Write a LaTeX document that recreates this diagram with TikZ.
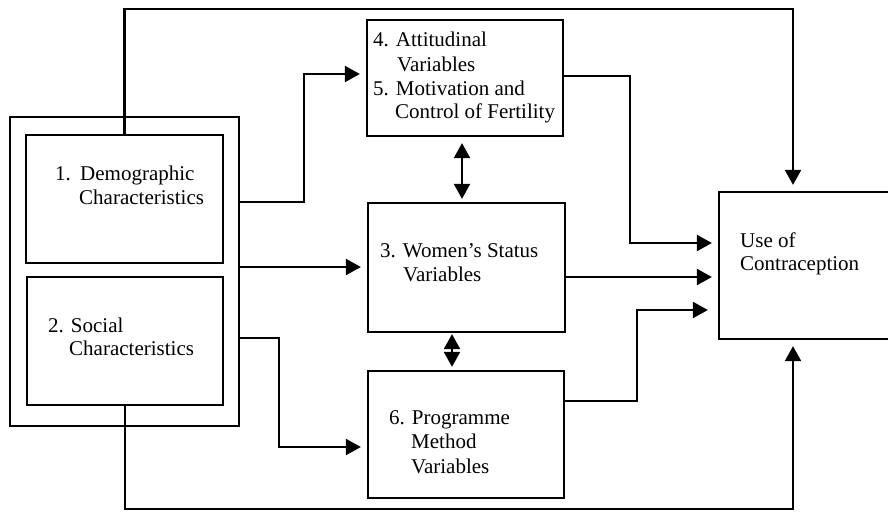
\documentclass[tikz,border=0pt]{standalone}
\usepackage{fontspec}
\setmainfont{Liberation Serif}
\usetikzlibrary{arrows.meta}
\begin{document}
\begin{tikzpicture}[x=1pt,y=-1pt,
  box/.style={draw,line width=2.3pt,rectangle,inner sep=0pt},
  lbl/.style={anchor=base west,inner sep=0pt,font=\fontsize{21}{24}\selectfont},
  conn/.style={line width=2.3pt},
  arr/.style={conn,-{Triangle[length=15pt,width=16pt]},shorten >=6pt},
  dbl/.style={conn,{Triangle[length=15pt,width=16pt]}-{Triangle[length=15pt,width=16pt]}}]
\useasboundingbox (0,0) rectangle (888,512);
% boxes
\node[box,minimum width=229pt,minimum height=309pt] (outer) at (124.5,271.5) {};
\node[box,minimum width=197pt,minimum height=128pt] (box1) at (124.5,199) {};
\node[box,minimum width=196pt,minimum height=128pt] (box2) at (125,341) {};
\node[box,minimum width=196pt,minimum height=116pt] (box4) at (465,78) {};
\node[box,minimum width=197pt,minimum height=129pt] (box3) at (466.5,267.5) {};
\node[box,minimum width=196pt,minimum height=127pt] (box6) at (466,434.5) {};
\node[box,minimum width=186pt,minimum height=147pt] (use) at (812,265.5) {};
% texts
\node[lbl] (t1a) at (55,180) {1.};
\node[lbl] (t1b) at (80,180) {Demographic};
\node[lbl] (t1c) at (79,204) {Characteristics};
\node[lbl] (t2a) at (48,332) {2. Social};
\node[lbl] (t2b) at (69,355) {Characteristics};
\node[lbl] (t4a) at (373,46) {4. Attitudinal};
\node[lbl] (t4b) at (397,71) {Variables};
\node[lbl] (t5a) at (373,95) {5. Motivation and};
\node[lbl] (t5b) at (395,118) {Control of Fertility};
\node[lbl] (t3a) at (380,257) {3. Women’s Status};
\node[lbl] (t3b) at (403,281) {Variables};
\node[lbl] (t6a) at (389,424) {6. Programme};
\node[lbl] (t6b) at (411,448) {Method};
\node[lbl] (t6c) at (411,473) {Variables};
\node[lbl] (tua) at (740,247) {Use of};
\node[lbl] (tub) at (740,270) {Contraception};
% turning points
\coordinate (c1) at (793,9);
\coordinate (c2a) at (304,202);
\coordinate (c2b) at (304,74);
\coordinate (c3) at (300,267);
\coordinate (c4a) at (279,338);
\coordinate (c4b) at (279,447);
\coordinate (c5a) at (630,76);
\coordinate (c5b) at (630,243);
\coordinate (c6) at (600,277);
\coordinate (c7a) at (637,401);
\coordinate (c7b) at (637,310);
\coordinate (c8) at (793,509);
\coordinate (d1) at (462,0);
\coordinate (d2) at (452,0);
% connectors
\draw[arr] (box1.north) |- (c1) -- (c1 |- use.north);
\draw[arr] (box2.south) |- (c8) -- (c8 |- use.south);
\draw[arr] (outer.east |- c2a) -- (c2a) -- (c2b) -- (box4.west |- c2b);
\draw[arr] (outer.east |- c3) -- (box3.west |- c3);
\draw[arr] (outer.east |- c4a) -- (c4a) -- (c4b) -- (box6.west |- c4b);
\draw[arr] (box4.east |- c5a) -- (c5a) -- (c5b) -- (use.west |- c5b);
\draw[arr] (box3.east |- c6) -- (use.west |- c6);
\draw[arr,shorten >=10pt] (box6.east |- c7a) -- (c7a) -- (c7b) -- (use.west |- c7b);
\draw[dbl,shorten <=6pt,shorten >=3pt] (box4.south -| d1) -- (box3.north -| d1);
\draw[dbl,shorten <=1pt,shorten >=3pt] (box3.south -| d2) -- (box6.north -| d2);
\end{tikzpicture}
\end{document}
